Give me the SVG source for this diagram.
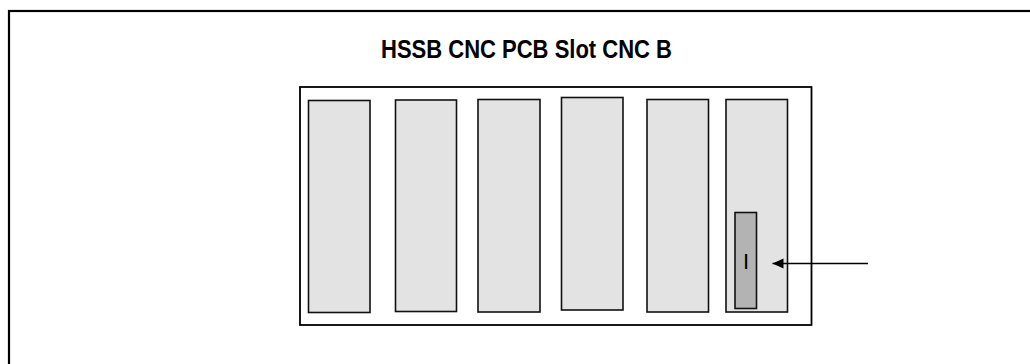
<svg xmlns="http://www.w3.org/2000/svg" width="1030" height="364" viewBox="0 0 1030 364">
  <style>
    .frame { fill: none; stroke: #000; stroke-width: 2.2; }
    .box { fill: #fff; stroke: #000; stroke-width: 1.8; }
    .slot { fill: #e3e3e3; stroke: #111; stroke-width: 1.6; }
    .conn { fill: #b3b3b3; stroke: #111; stroke-width: 1.6; }
    .title { font-family: "Liberation Sans", Arial, sans-serif; font-weight: bold; font-size: 26px; fill: #000; }
    .lbl { font-family: "Liberation Sans", Arial, sans-serif; font-size: 22px; fill: #000; }
    .arrow { stroke: #000; stroke-width: 1.4; fill: none; }
  </style>
  <defs>
    <marker id="ah" markerWidth="12" markerHeight="12" refX="11" refY="5" orient="auto" markerUnits="userSpaceOnUse">
      <path d="M0,0 L11,5 L0,10 z" fill="#000"/>
    </marker>
  </defs>
  <rect width="1030" height="364" fill="#fff"/>
  <g id="frame">
    <rect class="frame" x="9" y="11" width="1030" height="370"/>
  </g>
  <g id="title">
    <text class="title" x="381" y="57.5" textLength="291" lengthAdjust="spacingAndGlyphs">HSSB CNC PCB Slot CNC B</text>
  </g>
  <g id="rack">
    <rect class="box" x="300" y="87" width="511.5" height="238"/>
  </g>
  <g id="slot1"><rect class="slot" x="308.5" y="100.5" width="61.5" height="212"/></g>
  <g id="slot2"><rect class="slot" x="395.5" y="100" width="61" height="211.5"/></g>
  <g id="slot3"><rect class="slot" x="478" y="99.5" width="62" height="212.5"/></g>
  <g id="slot4"><rect class="slot" x="561.5" y="97.5" width="61.5" height="212.5"/></g>
  <g id="slot5"><rect class="slot" x="647" y="99.5" width="61.5" height="212.5"/></g>
  <g id="slot6"><rect class="slot" x="726" y="99.5" width="61.5" height="212.5"/></g>
  <g id="connector-I">
    <rect class="conn" x="735" y="212.5" width="21.5" height="96"/>
    <text class="lbl" x="746" y="268.5" text-anchor="middle">I</text>
  </g>
  <g id="connectors">
    <line class="arrow" x1="868" y1="263.5" x2="772.5" y2="263.5" marker-end="url(#ah)"/>
  </g>
</svg>
